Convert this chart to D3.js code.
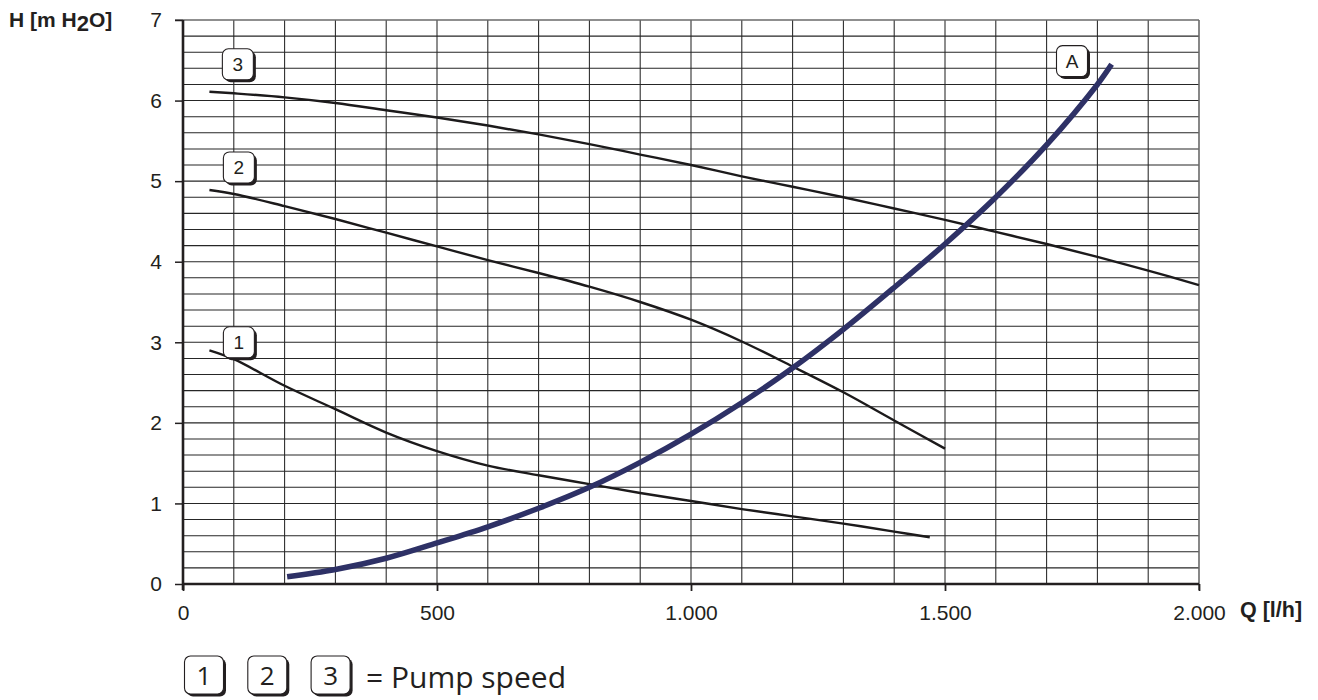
<!DOCTYPE html>
<html>
<head>
<meta charset="utf-8">
<script src="https://cdn.jsdelivr.net/npm/d3@7"></script>
<style>
  html, body { margin: 0; padding: 0; background: #fff; }
  svg { display: block; }
</style>
</head>
<body>
<svg id="chart" width="1318" height="700"></svg>
<script>
// Pump curves: head H [m H2O] over flow Q [l/h] for three speeds, plus system curve A
const speed1Q = [52, 100, 200, 300, 400, 500, 600, 700, 800, 900, 1000, 1100, 1200, 1300, 1400, 1470];
const speed1H = [2.90, 2.79, 2.46, 2.17, 1.88, 1.65, 1.47, 1.35, 1.24, 1.13, 1.03, 0.93, 0.84, 0.75, 0.65, 0.58];

const speed2Q = [52, 100, 200, 300, 400, 500, 600, 700, 800, 900, 1000, 1100, 1200, 1300, 1400, 1500];
const speed2H = [4.89, 4.84, 4.69, 4.53, 4.36, 4.19, 4.02, 3.86, 3.69, 3.50, 3.28, 3.01, 2.70, 2.38, 2.03, 1.68];

const speed3Q = [52, 100, 200, 300, 400, 500, 600, 700, 800, 900, 1000, 1100, 1200, 1300, 1400, 1500, 1600, 1700, 1800, 1900, 2000];
const speed3H = [6.11, 6.09, 6.04, 5.97, 5.88, 5.79, 5.69, 5.58, 5.46, 5.33, 5.20, 5.06, 4.93, 4.80, 4.66, 4.52, 4.37, 4.22, 4.06, 3.89, 3.71];

const systemQ = [205, 300, 400, 500, 600, 700, 800, 900, 1000, 1100, 1200, 1300, 1400, 1500, 1600, 1700, 1800, 1828];
const systemH = [0.09, 0.18, 0.32, 0.51, 0.71, 0.94, 1.20, 1.51, 1.86, 2.25, 2.68, 3.16, 3.68, 4.22, 4.80, 5.45, 6.20, 6.45];

// Curve tags and where they sit (Q, H of the tag centre)
const curveTags = ["3", "2", "1", "A"];
const curveTagQ = [108, 110, 110, 1750];
const curveTagH = [6.45, 5.17, 3.0, 6.49];

const xTickValues = [0, 500, 1000, 1500, 2000];
const xTickLabels = ["0", "500", "1.000", "1.500", "2.000"];
const yTickValues = [0, 1, 2, 3, 4, 5, 6, 7];

const legendTags = ["1", "2", "3"];
const legendText = "= Pump speed";

const ink = "#231f20";
const svg = d3.select("#chart");

const x = d3.scaleLinear().domain([0, 2000]).range([183, 1199]);
const y = d3.scaleLinear().domain([0, 7]).range([584, 20]);

// Fine grid: every 100 l/h and every 0.2 m
const grid = svg.append("g");
grid.selectAll("line.v")
  .data(d3.range(100, 2000, 100))
  .join("line")
  .attr("x1", d => x(d)).attr("x2", d => x(d))
  .attr("y1", y(7)).attr("y2", y(0))
  .attr("stroke", "#262626").attr("stroke-width", 1.05);
grid.selectAll("line.h")
  .data(d3.range(1, 35).map(i => i * 0.2))
  .join("line")
  .attr("x1", x(0)).attr("x2", x(2000))
  .attr("y1", d => y(d)).attr("y2", d => y(d))
  .attr("stroke", "#262626").attr("stroke-width", 1.05);

// Frame: light top and right edges
svg.append("line")
  .attr("x1", x(0) - 8).attr("x2", x(2000))
  .attr("y1", y(7)).attr("y2", y(7))
  .attr("stroke", "#6a6a6a").attr("stroke-width", 1.6);
svg.append("line")
  .attr("x1", x(2000)).attr("x2", x(2000))
  .attr("y1", y(7)).attr("y2", y(0) + 6)
  .attr("stroke", "#6a6a6a").attr("stroke-width", 1.6);

// Axes
const xAxis = d3.axisBottom(x)
  .tickValues(xTickValues)
  .tickFormat((d, i) => xTickLabels[i])
  .tickSize(7).tickPadding(14);
const gx = svg.append("g").attr("transform", `translate(0,${y(0)})`).call(xAxis);
gx.select(".domain").remove();
gx.selectAll(".tick line").attr("stroke", ink).attr("stroke-width", 1.8);
gx.selectAll(".tick text")
  .attr("fill", ink)
  .style("font-family", "'Liberation Sans', Arial, sans-serif")
  .style("font-size", "21px");

const yAxis = d3.axisLeft(y)
  .tickValues(yTickValues)
  .tickFormat(d3.format("d"))
  .tickSize(8).tickPadding(13);
const gy = svg.append("g").attr("transform", `translate(${x(0)},0)`).call(yAxis);
gy.select(".domain").remove();
gy.selectAll(".tick line").attr("stroke", ink).attr("stroke-width", 1.5);
gy.selectAll(".tick text")
  .attr("fill", ink)
  .style("font-family", "'Liberation Sans', Arial, sans-serif")
  .style("font-size", "21px");

// Heavy axis lines
svg.append("line")
  .attr("x1", x(0)).attr("x2", x(2000))
  .attr("y1", y(0)).attr("y2", y(0))
  .attr("stroke", ink).attr("stroke-width", 2.6);
svg.append("line")
  .attr("x1", x(0)).attr("x2", x(0))
  .attr("y1", y(7)).attr("y2", y(0) + 6)
  .attr("stroke", ink).attr("stroke-width", 2.6);

// Axis titles
const hTitle = svg.append("text")
  .attr("x", 9).attr("y", 27)
  .attr("fill", ink)
  .style("font-family", "'Liberation Sans', Arial, sans-serif")
  .style("font-weight", "bold")
  .style("font-size", "21px");
hTitle.append("tspan").text("H [m H");
hTitle.append("tspan").attr("dy", 4).style("font-size", "22px").text("2");
hTitle.append("tspan").attr("dy", -4).text("O]");

svg.append("text")
  .attr("x", 1240).attr("y", 617)
  .attr("fill", ink)
  .style("font-family", "'Liberation Sans', Arial, sans-serif")
  .style("font-weight", "bold")
  .style("font-size", "21.5px")
  .text("Q [l/h]");

// Curves
const line = d3.line()
  .x(d => x(d[0]))
  .y(d => y(d[1]))
  .curve(d3.curveCatmullRom.alpha(0.5));

const zip = (qs, hs) => qs.map((q, i) => [q, hs[i]]);

[[speed1Q, speed1H], [speed2Q, speed2H], [speed3Q, speed3H]].forEach(([qs, hs]) => {
  svg.append("path")
    .datum(zip(qs, hs))
    .attr("d", line)
    .attr("fill", "none")
    .attr("stroke", "#1c1a1b")
    .attr("stroke-width", 2.4);
});

svg.append("path")
  .datum(zip(systemQ, systemH))
  .attr("d", line)
  .attr("fill", "none")
  .attr("stroke", "#2e3166")
  .attr("stroke-width", 5.5);

// Rounded tag with a dark drop edge
function tag(g, cx, cy, w, h, label, fontSize, family) {
  g.append("rect")
    .attr("x", cx - w / 2 + 2.5).attr("y", cy - h / 2 + 2.5)
    .attr("width", w).attr("height", h)
    .attr("rx", 6).attr("ry", 6)
    .attr("fill", ink);
  g.append("rect")
    .attr("x", cx - w / 2).attr("y", cy - h / 2)
    .attr("width", w).attr("height", h)
    .attr("rx", 6).attr("ry", 6)
    .attr("fill", "#fff")
    .attr("stroke", ink).attr("stroke-width", 1.1);
  g.append("text")
    .attr("x", cx).attr("y", cy)
    .attr("text-anchor", "middle")
    .attr("dominant-baseline", "central")
    .attr("fill", ink)
    .style("font-family", family)
    .style("font-size", fontSize + "px")
    .text(label);
}

const tags = svg.append("g");
curveTags.forEach((t, i) => {
  tag(tags, x(curveTagQ[i]), y(curveTagH[i]), 31, 31, t, 19, "'Liberation Sans', Arial, sans-serif");
});

// Legend
const legend = svg.append("g");
legendTags.forEach((t, i) => {
  tag(legend, 204 + i * 63.3, 675, 39, 38, t, 26, "'Open Sans', 'Noto Sans', sans-serif");
});
legend.append("text")
  .attr("x", 366).attr("y", 688)
  .attr("fill", ink)
  .style("font-family", "'Open Sans', 'Noto Sans', sans-serif")
  .style("font-size", "30px")
  .text(legendText);
</script>
</body>
</html>
